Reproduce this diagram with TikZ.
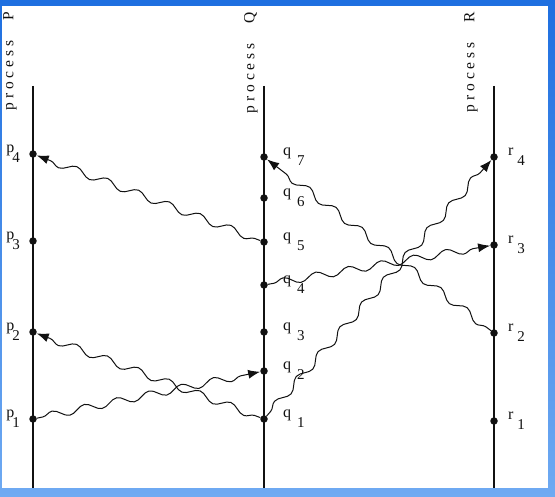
\documentclass[tikz,border=0pt]{standalone}
\usepackage{fontspec}
\usetikzlibrary{arrows.meta,decorations.pathmorphing}
\newfontfamily\procfont{Liberation Serif}[LetterSpace=25]
\newfontfamily\evfont{Liberation Serif}
\definecolor{FrameBlue}{HTML}{1E6FE0}
\definecolor{FrameLight}{HTML}{6FAAF2}
\definecolor{Ink}{HTML}{111111}
\tikzset{
  procline/.style={line width=1.7pt, draw=Ink},
  procname/.style={rotate=90, anchor=east, inner sep=0pt, text=Ink, font=\procfont\fontsize{15.5}{17}\selectfont},
  evt/.style={circle, fill=Ink, inner sep=0pt, minimum size=7.5pt},
  every label/.style={text=Ink, inner sep=1pt, font=\evfont\fontsize{16}{18}\selectfont},
  msg/.style={-{Latex[length=12pt,width=9pt]}, line width=1pt, draw=Ink, decorate,
    decoration={snake, amplitude=3.8pt, segment length=33pt, pre length=6pt, post length=14pt}}
}
% event label: letter with a lowered index
\newcommand{\evlab}[3][6pt]{#2\hspace{#1}\raisebox{-10pt}{\fontsize{15}{17}\selectfont #3}}

\begin{document}
\begin{tikzpicture}[x=1pt, y=-1pt]
% frame of the screenshot
\shade[top color=FrameBlue, bottom color=FrameLight] (0,0) rectangle (555,497);
\fill[white] (2,6) rectangle (548,488);
\useasboundingbox (0,0) rectangle (555,497);

% process lines
\coordinate (Ptop) at (33,86);  \coordinate (Pbot) at (33,488);
\coordinate (Qtop) at (264,86); \coordinate (Qbot) at (264,488);
\coordinate (Rtop) at (494,86); \coordinate (Rbot) at (494,488);
\draw[procline] (Ptop) -- (Pbot);
\draw[procline] (Qtop) -- (Qbot);
\draw[procline] (Rtop) -- (Rbot);
\node[procname] (nameP) at (10,12) {process\hspace{20pt}P};
\node[procname] (nameQ) at (251,12) {process\hspace{20pt}Q};
\node[procname] (nameR) at (471,12) {process\hspace{20pt}R};

% events on P
\node[evt, label={[label distance=8pt]left:\evlab[-2pt]{p}{4}}] (p4) at (33,154) {};
\node[evt, label={[label distance=8pt]left:\evlab[-2pt]{p}{3}}] (p3) at (33,241) {};
\node[evt, label={[label distance=8pt]left:\evlab[-2pt]{p}{2}}] (p2) at (33,332) {};
\node[evt, label={[label distance=8pt]left:\evlab[-2pt]{p}{1}}] (p1) at (33,419) {};

% events on Q
\node[evt, label={[label distance=14pt]right:\evlab{q}{7}}] (q7) at (264,157) {};
\node[evt, label={[label distance=14pt]right:\evlab{q}{6}}] (q6) at (264,198) {};
\node[evt, label={[label distance=14pt]right:\evlab{q}{5}}] (q5) at (264,242) {};
\node[evt, label={[label distance=14pt]right:\evlab{q}{4}}] (q4) at (264,285) {};
\node[evt, label={[label distance=14pt]right:\evlab{q}{3}}] (q3) at (264,332) {};
\node[evt, label={[label distance=14pt]right:\evlab{q}{2}}] (q2) at (264,371) {};
\node[evt, label={[label distance=14pt]right:\evlab{q}{1}}] (q1) at (264,419) {};

% events on R
\node[evt, label={[label distance=9pt]right:\evlab[4pt]{r}{4}}] (r4) at (494,157) {};
\node[evt, label={[label distance=9pt]right:\evlab[4pt]{r}{3}}] (r3) at (494,245) {};
\node[evt, label={[label distance=9pt]right:\evlab[4pt]{r}{2}}] (r2) at (494,333) {};
\node[evt, label={[label distance=9pt]right:\evlab[4pt]{r}{1}}] (r1) at (494,421) {};

% messages
\draw[msg] (q5) -- (p4);
\draw[msg] (p1) -- (q2);
\draw[msg] (q1) -- (p2);
\draw[msg] (q1) -- (r4);
\draw[msg] (q4) -- (r3);
\draw[msg] (r2) -- (q7);
\end{tikzpicture}
\end{document}
